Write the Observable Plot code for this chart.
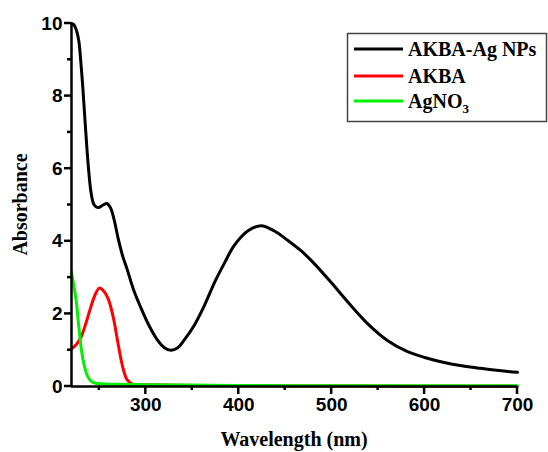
<!DOCTYPE html>
<html>
<head>
<meta charset="utf-8">
<script src="https://cdn.jsdelivr.net/npm/d3@7"></script>
<script src="https://cdn.jsdelivr.net/npm/@observablehq/plot@0.6"></script>
<style>
  html, body { margin: 0; padding: 0; background: #fff; }
  #chart { width: 548px; height: 452px; }
</style>
</head>
<body>
<div id="chart"></div>
<script>
// ---- Data ----
const seriesNames = ["AKBA-Ag NPs", "AKBA", "AgNO3"];
const seriesColors = ["#000000", "#ff0000", "#00f000"];

const wlNPs = [220, 222, 224, 226, 228, 230, 232, 235, 238, 241, 244, 247, 250, 254, 258, 262, 266, 270, 275, 280, 287, 295, 303, 312, 320, 327, 334, 341, 352, 363, 374, 385, 395, 410, 424, 438, 453, 467, 480, 500, 520, 540, 560, 580, 600, 620, 640, 660, 680, 700];
const absNPs = [10.0, 9.98, 9.9, 9.75, 9.5, 8.95, 8.3, 7.15, 6.1, 5.35, 5.02, 4.94, 4.94, 5.0, 5.04, 4.92, 4.58, 4.1, 3.6, 3.22, 2.65, 2.15, 1.7, 1.3, 1.07, 1.0, 1.06, 1.27, 1.68, 2.23, 2.87, 3.42, 3.88, 4.29, 4.43, 4.29, 4.02, 3.74, 3.42, 2.85, 2.25, 1.7, 1.27, 0.98, 0.8, 0.67, 0.57, 0.5, 0.44, 0.39];

const wlAKBA = [220, 225, 230, 235, 240, 245, 250, 255, 260, 265, 270, 275, 280, 285, 290, 300, 320, 350, 400, 500, 600, 700];
const absAKBA = [1.04, 1.15, 1.35, 1.7, 2.12, 2.5, 2.71, 2.62, 2.38, 1.9, 1.2, 0.55, 0.18, 0.07, 0.05, 0.05, 0.04, 0.03, 0.02, 0.015, 0.01, 0.01];

const wlAg = [220, 222, 225, 228, 231, 234, 237, 241, 246, 255, 270, 300, 350, 400, 500, 600, 700];
const absAg = [3.15, 2.85, 2.37, 1.62, 0.95, 0.55, 0.3, 0.15, 0.09, 0.07, 0.06, 0.05, 0.04, 0.03, 0.02, 0.02, 0.02];

const xTicks = [300, 400, 500, 600, 700];
const xMinor = [250, 350, 450, 550, 650];
const yTicks = [0, 2, 4, 6, 8, 10];
const yMinor = [1, 3, 5, 7, 9];
const xLabel = "Wavelength (nm)";
const yLabel = "Absorbance";

// ---- Build rows ----
const rows = [
  ...wlNPs.map((w, i) => ({series: seriesNames[0], wl: w, a: absNPs[i]})),
  ...wlAKBA.map((w, i) => ({series: seriesNames[1], wl: w, a: absAKBA[i]})),
  ...wlAg.map((w, i) => ({series: seriesNames[2], wl: w, a: absAg[i]}))
];

const W = 548, H = 452, mL = 71, mR = 31, mT = 23, mB = 66;
const xDom = [220, 700], yDom = [0, 10];
const tickFont = {fontSize: 19, fontWeight: "bold", fontFamily: "Liberation Sans, Arial, sans-serif"};

const plot = Plot.plot({
  width: W,
  height: H,
  marginLeft: mL,
  marginRight: mR,
  marginTop: mT,
  marginBottom: mB,
  x: {domain: xDom},
  y: {domain: yDom},
  color: {domain: seriesNames, range: seriesColors},
  marks: [
    Plot.axisX({ticks: xTicks, tickSize: 0, tickPadding: 11, label: null, ...tickFont}),
    Plot.axisY({ticks: yTicks, tickSize: 0, tickPadding: 9, label: null, ...tickFont}),
    Plot.line(rows, {x: "wl", y: "a", z: "series", stroke: "series", strokeWidth: 3, curve: "catmull-rom"}),
    Plot.ruleY([yDom[0]], {strokeWidth: 2.5}),
    Plot.ruleX([xDom[0]], {strokeWidth: 2.5})
  ]
});

document.getElementById("chart").appendChild(plot);

// ---- Tick marks (positioned with the plot's own scales), axis titles, legend ----
const svg = d3.select(plot);
const sx = plot.scale("x"), sy = plot.scale("y");
const axisY0 = sy.apply(yDom[0]), axisX0 = sx.apply(xDom[0]);
const tg = svg.append("g");
const addXTicks = (vals, len) => vals.forEach(v => {
  const px = sx.apply(v);
  tg.append("line").attr("x1", px).attr("x2", px).attr("y1", axisY0).attr("y2", axisY0 + len)
    .attr("stroke", "#000").attr("stroke-width", 2.5);
});
const addYTicks = (vals, len) => vals.forEach(v => {
  const py = sy.apply(v);
  tg.append("line").attr("y1", py).attr("y2", py).attr("x1", axisX0).attr("x2", axisX0 - len)
    .attr("stroke", "#000").attr("stroke-width", 2.5);
});
addXTicks(xTicks, 8);
addXTicks(xMinor, 4);
addYTicks(yTicks, 7);
addYTicks(yMinor, 4);

const serif = "Liberation Serif, Times New Roman, serif";

svg.append("text")
  .attr("x", (mL + W - mR) / 2).attr("y", 446)
  .attr("text-anchor", "middle")
  .attr("font-family", serif).attr("font-weight", "bold").attr("font-size", 20)
  .attr("fill", "#000")
  .text(xLabel);

svg.append("text")
  .attr("transform", `translate(27, ${(mT + H - mB) / 2}) rotate(-90)`)
  .attr("text-anchor", "middle")
  .attr("font-family", serif).attr("font-weight", "bold").attr("font-size", 20)
  .attr("fill", "#000")
  .text(yLabel);

const lg = svg.append("g").attr("text-anchor", "start");
lg.append("rect")
  .attr("x", 347.5).attr("y", 33.5).attr("width", 199).attr("height", 88)
  .attr("fill", "#fff").attr("stroke", "#444").attr("stroke-width", 1.5);
const ly = [49, 76, 101];
seriesNames.forEach((name, i) => {
  lg.append("line")
    .attr("x1", 354).attr("x2", 403).attr("y1", ly[i]).attr("y2", ly[i])
    .attr("stroke", seriesColors[i]).attr("stroke-width", 3);
  const t = lg.append("text")
    .attr("x", 408).attr("y", ly[i] + 6.5)
    .attr("text-anchor", "start")
    .attr("font-family", serif).attr("font-weight", "bold").attr("font-size", 20)
    .attr("fill", "#000");
  if (name === "AgNO3") {
    t.append("tspan").text("AgNO");
    t.append("tspan").attr("dy", 5).attr("font-size", 13).text("3");
  } else {
    t.text(name);
  }
});
</script>
</body>
</html>
